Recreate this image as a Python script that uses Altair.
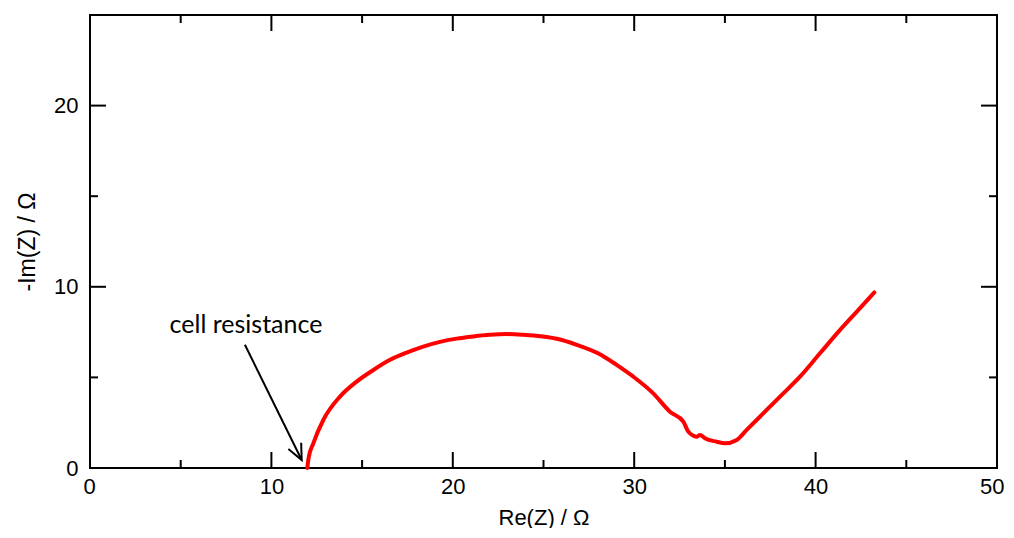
import altair as alt
import pandas as pd

# Nyquist curve
re_z = [11.98, 12.05, 12.31, 12.86, 13.78, 14.70, 15.62, 16.54, 17.46, 18.37,
        19.29, 20.21, 21.13, 22.05, 22.97, 23.89, 24.44, 25.73, 26.83, 28.11,
        29.03, 29.95, 31.05, 31.97, 32.71, 32.98, 33.44, 33.63, 33.90, 34.55,
        35.00, 35.65, 36.20, 36.93, 38.04, 39.14, 40.24, 41.35, 42.45, 43.24]
neg_im_z = [0.00, 0.55, 1.36, 2.65, 3.94, 4.77, 5.41, 5.97, 6.37, 6.70,
            6.96, 7.14, 7.26, 7.35, 7.39, 7.35, 7.31, 7.13, 6.80, 6.28,
            5.69, 5.04, 4.12, 3.11, 2.56, 2.01, 1.73, 1.82, 1.64, 1.45,
            1.36, 1.55, 2.10, 2.83, 3.94, 5.04, 6.33, 7.62, 8.82, 9.69]

x_labels = [0, 10, 20, 30, 40, 50]
y_labels = [0, 10, 20]
x_major = [10, 20, 30, 40]
x_minor = [5, 15, 25, 35, 45]
y_major = [10, 20]
y_minor = [5, 15]

annot_text = ["cell resistance"]
annot_x = [8.6]
annot_y = [7.9]
arrow_x = [8.54]
arrow_y = [6.8]
arrow_x2 = [11.67]
arrow_y2 = [0.44]

W, H = 907, 453
LONG, SHORT = 16, 8
FONT = "Liberation Sans"

xs = alt.Scale(domain=[0, 50], nice=False, zero=False)
ys = alt.Scale(domain=[0, 25], nice=False, zero=False)

curve_df = pd.DataFrame({"re": re_z, "im": neg_im_z, "i": range(len(re_z))})

base = alt.Chart(curve_df).mark_line(color="#ff0000", strokeWidth=4,
                                     interpolate="monotone", strokeJoin="round",
                                     strokeCap="round").encode(
    x=alt.X("re:Q", scale=xs,
            axis=alt.Axis(values=x_labels, tickSize=0, domain=False, grid=False,
                          labelFlush=True, labelFlushOffset=7, labelOverlap=False,
                          labelFont=FONT, labelFontSize=22, labelColor="#000",
                          labelPadding=8, title="Re(Z) / Ω", titleFont=FONT,
                          titleFontSize=22, titleFontWeight="normal",
                          titleColor="#000", titlePadding=10)),
    y=alt.Y("im:Q", scale=ys,
            axis=alt.Axis(values=y_labels, tickSize=0, domain=False, grid=False,
                          labelFlush=False, labelOverlap=False,
                          labelFont=FONT, labelFontSize=22, labelColor="#000",
                          labelPadding=12, title="-Im(Z) / Ω", titleFont=FONT,
                          titleFontSize=23, titleFontWeight="normal",
                          titleColor="#000", titlePadding=14)),
    order="i:Q",
)

def xticks(vals, length):
    df = pd.DataFrame({"v": vals})
    bottom = alt.Chart(df).mark_rule(color="black", strokeWidth=2).encode(
        x=alt.X("v:Q", scale=xs), y=alt.value(H), y2=alt.value(H - length))
    top = alt.Chart(df).mark_rule(color="black", strokeWidth=2).encode(
        x=alt.X("v:Q", scale=xs), y=alt.value(0), y2=alt.value(length))
    return [bottom, top]

def yticks(vals, length):
    df = pd.DataFrame({"v": vals})
    left = alt.Chart(df).mark_rule(color="black", strokeWidth=2).encode(
        y=alt.Y("v:Q", scale=ys), x=alt.value(0), x2=alt.value(length))
    right = alt.Chart(df).mark_rule(color="black", strokeWidth=2).encode(
        y=alt.Y("v:Q", scale=ys), x=alt.value(W), x2=alt.value(W - length))
    return [left, right]

ticks = xticks(x_major, LONG) + xticks(x_minor, SHORT) + yticks(y_major, LONG) + yticks(y_minor, SHORT)

arrow_df = pd.DataFrame({"x": arrow_x, "y": arrow_y, "x2": arrow_x2, "y2": arrow_y2})
arrow_line = alt.Chart(arrow_df).mark_rule(color="black", strokeWidth=2).encode(
    x=alt.X("x:Q", scale=xs), y=alt.Y("y:Q", scale=ys),
    x2="x2:Q", y2="y2:Q")
arrow_head = alt.Chart(arrow_df).mark_point(
    shape="M -0.45 -1 L 0 0 L 0.45 -1", filled=False, color="black",
    strokeWidth=2, size=1000, angle=334, opacity=1).encode(
    x=alt.X("x2:Q", scale=xs), y=alt.Y("y2:Q", scale=ys))

text_df = pd.DataFrame({"t": annot_text, "x": annot_x, "y": annot_y})
label = alt.Chart(text_df).mark_text(font="Lato", fontSize=25, color="black",
                                     align="center", baseline="middle").encode(
    x=alt.X("x:Q", scale=xs), y=alt.Y("y:Q", scale=ys), text="t:N")

chart = alt.layer(base, *ticks, arrow_line, arrow_head, label).properties(
    width=W, height=H,
    autosize=alt.AutoSizeParams(type="none"),
    padding={"left": 82, "top": 7, "right": 9, "bottom": 60},
).configure(background="white").configure_view(stroke="black", strokeWidth=2)

chart.save("out.html", embed_options={"renderer": "svg", "actions": False})
